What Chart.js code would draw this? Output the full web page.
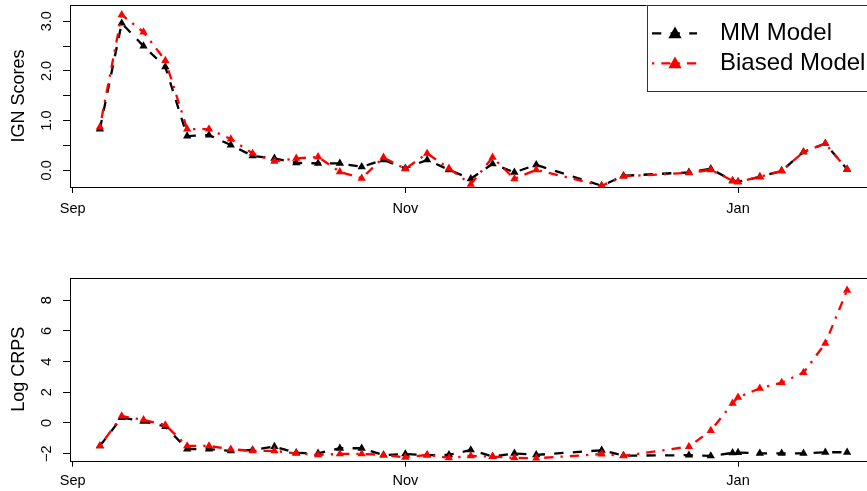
<!DOCTYPE html>
<html>
<head>
<meta charset="utf-8">
<script src="https://cdn.jsdelivr.net/npm/chart.js@4.4.1/dist/chart.umd.min.js"></script>
<style>
  html, body { margin: 0; padding: 0; background: #fff; overflow: hidden; width: 867px; height: 491px; }
  .panel { position: absolute; left: 0; width: 900px; }
  #p1 { top: 0; height: 245px; }
  #p2 { top: 245px; height: 246px; }
  canvas { display: block; }
</style>
</head>
<body>
<div class="panel" id="p1"><canvas id="ign" width="900" height="245"></canvas></div>
<div class="panel" id="p2"><canvas id="crps" width="900" height="246"></canvas></div>
<script>
const FONT = '"Liberation Sans", Arial, Helvetica, sans-serif';

// Forecast dates, counted in days after 1 September
const forecastDays = [5, 9, 13, 17, 21, 25, 29, 33, 37, 41, 45, 49, 53, 57, 61, 65, 69, 73, 77, 81, 85,
                      97, 101, 113, 117, 121, 122, 126, 130, 134, 138, 142];

// Month ticks on the time axis (days after 1 September)
const monthTickDays = [0, 61, 122];
const monthTickLabels = ['Sep', 'Nov', 'Jan'];

const seriesNames = ['MM Model', 'Biased Model'];

// Ignorance scores
const ignMM = [0.83, 2.96, 2.50, 2.08, 0.69, 0.71, 0.51, 0.29, 0.24, 0.15, 0.14, 0.14, 0.07, 0.21, 0.04, 0.21,
               0.01, -0.17, 0.13, -0.04, 0.11, -0.31, -0.11, -0.04, 0.03, -0.21, -0.23, -0.13, -0.01, 0.37, 0.54, 0.02];
const ignBiased = [0.87, 3.13, 2.78, 2.21, 0.83, 0.83, 0.63, 0.34, 0.18, 0.24, 0.27, -0.03, -0.16, 0.26, 0.03, 0.34,
                   0.04, -0.28, 0.26, -0.17, 0.01, -0.31, -0.12, -0.05, 0.01, -0.21, -0.23, -0.13, -0.01, 0.37, 0.54, 0.02];

// Log CRPS
const crpsMM = [-1.50, 0.35, 0.10, -0.23, -1.70, -1.70, -1.82, -1.76, -1.54, -1.95, -1.98, -1.65, -1.65, -2.10, -2.02, -2.10,
                -2.08, -1.76, -2.19, -1.98, -2.08, -1.78, -2.13, -2.10, -2.15, -1.95, -1.93, -1.98, -1.98, -1.98, -1.91, -1.91];
const crpsBiased = [-1.50, 0.45, 0.20, -0.13, -1.50, -1.50, -1.71, -1.82, -1.82, -1.98, -2.08, -2.02, -2.02, -2.08, -2.24, -2.08,
                    -2.28, -2.15, -2.19, -2.28, -2.30, -2.03, -2.15, -1.54, -0.50, 1.28, 1.67, 2.26, 2.63, 3.28, 5.19, 8.65];

// Axis ticks
const ignTicks = [0, 0.5, 1, 1.5, 2, 2.5, 3];
const ignTickLabels = ['0.0', '', '1.0', '', '2.0', '', '3.0'];
const crpsTicks = [-2, 0, 2, 4, 6, 8];
const crpsTickLabels = ['\u22122', '0', '2', '4', '6', '8'];

const styles = [
  { color: '#000000', dash: [9.3, 9.3] },
  { color: '#ff0000', dash: [2.3, 7, 9.3, 7] }
];

function makeDataset(i, values) {
  const st = styles[i];
  return {
    label: seriesNames[i],
    data: forecastDays.map((d, k) => ({ x: d, y: values[k] })),
    borderColor: st.color,
    backgroundColor: st.color,
    borderWidth: 2.3,
    borderDash: st.dash,
    borderCapStyle: 'butt',
    tension: 0,
    pointStyle: 'triangle',
    pointRadius: 4.8,
    pointBorderWidth: 0,
    pointBackgroundColor: st.color,
    order: i === 0 ? 1 : 0
  };
}

// Frame around the plotting region
const boxPlugin = {
  id: 'box',
  afterDatasetsDraw(chart) {
    const { ctx, chartArea: a } = chart;
    ctx.save();
    ctx.strokeStyle = '#000';
    ctx.lineWidth = 1;
    ctx.strokeRect(Math.round(a.left) + 0.5, Math.round(a.top) + 0.5,
                   Math.round(a.right - a.left), Math.round(a.bottom - a.top));
    ctx.restore();
  }
};

// Legend in the top-right corner with line + marker samples
const seriesLegend = {
  id: 'seriesLegend',
  afterDraw(chart) {
    const { ctx, chartArea: a } = chart;
    const left = a.right - 230.5, top = a.top, bottom = 91;
    ctx.save();
    ctx.fillStyle = '#fff';
    ctx.fillRect(left, top, a.right - left, bottom - top);
    ctx.strokeStyle = '#333';
    ctx.lineWidth = 1;
    ctx.strokeRect(Math.round(left) + 0.5, Math.round(top) + 0.5, Math.round(a.right - left), Math.round(bottom - top));
    const rows = [33.3, 63.3];
    chart.data.datasets.forEach((ds, i) => {
      const y = rows[i];
      const x0 = left + 5.5, x1 = left + 50.5, xm = left + 28.5;
      ctx.save();
      ctx.strokeStyle = ds.borderColor;
      ctx.lineWidth = ds.borderWidth;
      ctx.setLineDash(ds.borderDash);
      ctx.beginPath();
      ctx.moveTo(x0, y);
      ctx.lineTo(x1, y);
      ctx.stroke();
      ctx.restore();
      ctx.fillStyle = ds.pointBackgroundColor;
      Chart.helpers.drawPoint(ctx, { pointStyle: 'triangle', radius: 7.7, borderWidth: 0, rotation: 0 }, xm, y + 1);
      ctx.fillStyle = '#000';
      ctx.font = '24px ' + FONT;
      ctx.textAlign = 'left';
      ctx.textBaseline = 'middle';
      ctx.fillText(ds.label, left + 73.5, y);
    });
    ctx.restore();
  }
};

function makeChart(id, mm, biased, cfg) {
  return new Chart(document.getElementById(id), {
    type: 'line',
    data: { datasets: [makeDataset(0, mm), makeDataset(1, biased)] },
    options: {
      responsive: false,
      animation: false,
      devicePixelRatio: 1,
      layout: { padding: { left: 0, right: 23, top: cfg.padTop, bottom: 0 } },
      plugins: { legend: { display: false }, tooltip: { enabled: false }, title: { display: false } },
      scales: {
        x: {
          type: 'linear',
          min: -0.48,
          max: 147.48,
          afterBuildTicks: s => { s.ticks = monthTickDays.map(v => ({ value: v })); },
          afterFit: s => { s.height = cfg.xHeight; s.paddingLeft = 0; s.paddingRight = 0; },
          ticks: {
            callback: (v, i) => monthTickLabels[i],
            font: { family: FONT, size: 14.5 },
            color: '#000',
            padding: cfg.xPad,
            maxRotation: 0,
            autoSkip: false
          },
          grid: { drawOnChartArea: false, drawTicks: true, tickLength: 6, color: '#000', lineWidth: 1 },
          border: { display: false }
        },
        y: {
          type: 'linear',
          min: cfg.yMin,
          max: cfg.yMax,
          afterBuildTicks: s => { s.ticks = cfg.ticks.map(v => ({ value: v })); },
          afterFit: s => { s.width = 70; s.paddingTop = 0; s.paddingBottom = 0; },
          ticks: {
            callback: (v, i) => cfg.tickLabels[i],
            font: { family: FONT, size: 14.5 },
            color: '#000',
            minRotation: 90,
            maxRotation: 90,
            crossAlign: 'center',
            padding: cfg.yPad,
            autoSkip: false
          },
          grid: { drawOnChartArea: false, drawTicks: true, tickLength: 7, color: '#000', lineWidth: 1 },
          border: { display: false },
          title: {
            display: true,
            text: cfg.title,
            font: { family: FONT, size: 18 },
            color: '#000',
            padding: { top: 8, bottom: 0 }
          }
        }
      }
    },
    plugins: cfg.legend ? [boxPlugin, seriesLegend] : [boxPlugin]
  });
}

makeChart('ign', ignMM, ignBiased, {
  padTop: 4, xHeight: 58, xPad: 7, yPad: 6.2,
  yMin: -0.335, yMax: 3.33, ticks: ignTicks, tickLabels: ignTickLabels,
  title: 'IGN Scores', legend: true
});

makeChart('crps', crpsMM, crpsBiased, {
  padTop: 33, xHeight: 30.3, xPad: 5.6, yPad: 7.7,
  yMin: -2.46, yMax: 9.45, ticks: crpsTicks, tickLabels: crpsTickLabels,
  title: 'Log CRPS', legend: false
});
</script>
</body>
</html>
